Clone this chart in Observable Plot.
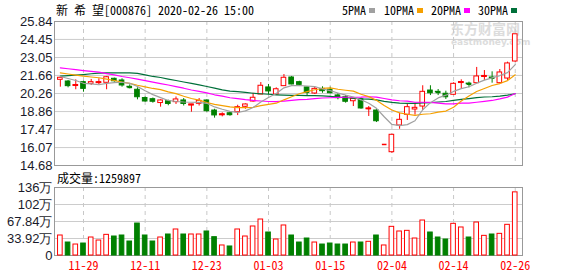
<!DOCTYPE html>
<html><head><meta charset="utf-8">
<script src="https://cdn.jsdelivr.net/npm/d3@7"></script>
<script src="https://cdn.jsdelivr.net/npm/@observablehq/plot@0.6"></script>
<style>
body{margin:0;background:#fff;}
#wrap{position:relative;width:578px;height:276px;overflow:hidden;background:#fff;}
.mono{font-family:"Noto Sans Mono CJK SC","Liberation Mono",monospace;font-size:12px;line-height:14px;color:#000;position:absolute;white-space:pre;}
.sw{position:absolute;width:6px;height:5px;}
#p1,#p2{position:absolute;left:0;}
#p1{top:0;} #p2{top:165px;}
.wm{position:absolute;color:#dcdcdc;font-family:"Noto Sans CJK SC",sans-serif;font-weight:bold;white-space:pre;}
</style></head><body><div id="wrap">
<div class="wm" style="left:450px;top:21px;font-size:14px;line-height:15px;">东方财富网</div>
<div class="wm" style="left:451px;top:38px;font-size:9px;line-height:9px;font-family:'DejaVu Sans',sans-serif;">eastmoney.com</div>
<div id="p1"></div><div id="p2"></div>
<div class="mono" style="left:56px;top:3px;">新 希 望[000876] 2020-02-26 15:00</div>
<div id="legend"></div>
<div class="mono" style="left:57px;top:171px;">成交量:1259897</div>
</div>
<script>
const dates = ["11-26","11-27","11-28","11-29","12-02","12-03","12-04","12-05","12-06","12-09","12-10","12-11","12-12","12-13","12-16","12-17","12-18","12-19","12-20","12-23","12-24","12-25","12-26","12-27","12-30","12-31","01-02","01-03","01-06","01-07","01-08","01-09","01-10","01-13","01-14","01-15","01-16","01-17","01-20","01-21","01-22","01-23","02-03","02-04","02-05","02-06","02-07","02-10","02-11","02-12","02-13","02-14","02-17","02-18","02-19","02-20","02-21","02-24","02-25","02-26"];
const open = [21.32,21.19,20.84,21.14,21.01,21.06,21.09,21.40,21.27,20.78,20.55,19.91,19.82,19.52,19.66,19.59,19.72,19.33,19.46,19.72,18.94,18.57,18.73,18.81,19.23,19.64,20.18,20.73,20.18,20.83,21.50,21.14,20.73,20.26,20.62,20.55,20.11,19.97,19.66,19.82,19.04,18.94,16.31,15.71,17.78,18.61,19.02,19.25,20.49,20.39,20.24,20.16,21.07,21.03,21.06,21.54,21.50,21.06,21.42,22.74];
const high = [21.50,21.27,21.32,21.21,21.35,21.40,21.58,21.45,21.40,20.93,20.70,19.99,19.91,19.77,19.74,19.99,19.87,19.42,19.87,19.77,19.04,18.76,18.81,19.35,19.46,20.28,21.11,20.96,20.70,21.73,21.58,21.21,20.75,20.75,20.78,20.75,20.24,20.11,19.85,19.90,19.25,19.04,16.31,17.10,18.73,19.46,19.51,20.86,20.86,20.57,20.44,21.09,21.32,21.14,22.28,22.04,21.94,22.12,22.69,24.85];
const low = [20.75,20.70,20.55,20.36,20.88,20.93,20.55,21.14,20.75,20.62,19.77,19.59,19.51,19.20,19.31,19.41,19.29,18.81,19.29,18.81,18.35,18.45,18.50,18.55,19.04,19.59,20.18,20.18,20.16,20.83,20.93,20.80,20.10,20.18,20.28,20.24,19.77,19.51,19.25,19.04,18.48,18.01,16.31,15.63,17.49,18.17,18.58,18.94,20.10,20.10,19.80,20.10,20.62,20.70,21.06,21.27,21.06,21.01,21.27,22.69];
const close = [21.48,20.83,20.92,20.62,21.14,21.14,21.52,21.21,20.88,20.73,19.97,19.64,19.62,19.72,19.45,19.80,19.45,19.41,19.69,18.89,18.56,18.65,18.58,19.20,19.41,19.93,20.86,20.42,20.59,21.48,20.96,20.93,20.31,20.62,20.44,20.28,19.90,19.62,19.85,19.10,19.10,18.11,16.31,17.06,18.22,19.20,19.15,20.39,20.28,20.34,19.97,21.01,21.15,20.98,21.58,21.62,21.45,21.89,22.59,24.85];
const volume = [39.9,25.9,21.9,23.9,35.9,29.9,41.2,37.9,39.9,27.9,63.8,39.9,27.9,35.9,41.9,51.9,41.9,41.9,41.9,47.9,36.6,20.0,18.0,51.9,37.9,57.9,71.8,45.9,31.9,59.9,39.9,25.9,33.9,25.9,21.9,23.9,21.9,21.9,25.9,25.9,27.3,39.9,20.0,57.2,47.9,49.2,33.9,69.8,45.9,35.9,31.9,63.2,55.9,35.9,65.8,39.2,41.9,43.2,61.2,126.0];
const ma5 = [21.58,21.42,21.27,21.05,21.00,20.94,21.05,21.10,21.13,21.05,20.80,20.47,20.17,19.94,19.72,19.64,19.60,19.58,19.57,19.50,19.22,19.04,18.88,18.79,18.91,19.17,19.60,19.95,20.26,20.70,20.87,20.88,20.84,20.80,20.61,20.48,20.30,20.13,19.99,19.77,19.51,19.11,18.46,17.86,17.77,17.85,18.15,19.00,19.55,19.92,20.13,20.42,20.64,20.78,21.06,21.30,21.47,21.65,21.88,22.50];
const ma10 = [21.86,21.77,21.69,21.60,21.54,21.48,21.38,21.27,21.14,21.05,20.90,20.78,20.65,20.56,20.39,20.25,20.05,19.87,19.75,19.56,19.42,19.32,19.22,19.17,19.16,19.18,19.32,19.42,19.51,19.77,20.01,20.24,20.41,20.55,20.65,20.69,20.59,20.51,20.44,20.20,20.02,19.73,19.33,18.98,18.76,18.65,18.57,18.65,18.69,18.82,18.90,19.19,19.68,20.07,20.41,20.65,20.88,21.03,21.26,21.71];
const ma20 = [22.25,22.18,22.11,22.04,21.97,21.91,21.80,21.70,21.58,21.48,21.38,21.26,21.14,21.03,20.92,20.79,20.67,20.53,20.42,20.31,20.16,20.05,19.93,19.86,19.78,19.72,19.68,19.64,19.63,19.67,19.72,19.78,19.81,19.86,19.91,19.93,19.96,19.97,19.97,19.98,20.01,19.98,19.87,19.76,19.70,19.67,19.58,19.58,19.57,19.51,19.46,19.46,19.51,19.52,19.58,19.65,19.72,19.84,19.98,20.26];
const ma30 = [21.60,21.64,21.68,21.73,21.79,21.84,21.86,21.86,21.86,21.86,21.82,21.70,21.58,21.50,21.38,21.27,21.15,21.04,20.93,20.80,20.68,20.54,20.45,20.40,20.35,20.28,20.24,20.20,20.16,20.13,20.11,20.11,20.09,20.09,20.07,20.04,19.99,19.93,19.90,19.84,19.82,19.76,19.65,19.57,19.52,19.50,19.49,19.53,19.55,19.60,19.64,19.72,19.81,19.87,19.94,19.99,20.01,20.06,20.13,20.24];
const priceTicks = [14.68,16.07,17.47,18.86,20.26,21.66,23.05,24.45,25.84];
const volTicks = [0,33.92,67.84,101.76,135.68];
const volTickLabels = ["0","33.92万","67.84万","102万","136万"];
const tickDates = ["11-29","12-11","12-23","01-03","01-15","02-04","02-14","02-26"];
const maNames = ["5PMA","10PMA","20PMA","30PMA"];

const RED = "#ff0000", GREEN = "#008000";
const maColors = ["#a0a0a0","#f5a000","#ff00ff","#00703a"];
const rows = dates.map((d, i) => ({i, d, o: open[i], h: high[i], l: low[i], c: close[i], v: volume[i],
  ma5: ma5[i], ma10: ma10[i], ma20: ma20[i], ma30: ma30[i]}));
const up = r => r.c >= r.o;
const tickIdx = tickDates.map(t => dates.indexOf(t));
const bw = 0.3;
const xScale = {type: "linear", domain: [-0.5, dates.length - 0.5], range: [56, 518.6]};
const baseStyle = {fontFamily: "'Liberation Sans', Arial, sans-serif", fontSize: "13px", background: "transparent", overflow: "visible"};

const p1 = Plot.plot({
  width: 578, height: 170, marginTop: 21, marginBottom: 5, marginLeft: 54, marginRight: 56,
  style: baseStyle,
  x: {...xScale, axis: null},
  y: {domain: [priceTicks[0], priceTicks[priceTicks.length - 1]]},
  color: {type: "identity"},
  marks: [
    Plot.gridY(priceTicks, {stroke: "#cccccc", strokeOpacity: 1}),
    Plot.gridX(tickIdx, {stroke: "#c8c8c8", strokeOpacity: 1, strokeDasharray: "4,4"}),
    Plot.frame({stroke: "#999999"}),
    Plot.axisY(priceTicks, {tickSize: 0, tickPadding: 2, tickFormat: d => d.toFixed(2), color: "#1a1a2a", fontSize: 13, label: null}),
    Plot.ruleX(rows, {x: "i", y1: "l", y2: "h", stroke: r => up(r) ? RED : GREEN, strokeWidth: 1}),
    Plot.rect(rows, {x1: r => r.i - bw, x2: r => r.i + bw, y1: "o", y2: "c",
      fill: r => up(r) ? "#ffffff" : GREEN, stroke: r => up(r) ? RED : GREEN, strokeWidth: 1}),
    Plot.link(rows.filter(r => Math.abs(r.o - r.c) < 0.1), {x1: r => r.i - bw, x2: r => r.i + bw, y1: "c", y2: "c",
      stroke: r => up(r) ? RED : GREEN, strokeWidth: 1.5}),
    Plot.line(rows, {x: "i", y: "ma30", stroke: maColors[3], strokeWidth: 1.2}),
    Plot.line(rows, {x: "i", y: "ma20", stroke: maColors[2], strokeWidth: 1.2}),
    Plot.line(rows, {x: "i", y: "ma10", stroke: maColors[1], strokeWidth: 1.2}),
    Plot.line(rows, {x: "i", y: "ma5", stroke: maColors[0], strokeWidth: 1.2})
  ]
});
document.getElementById("p1").appendChild(p1);

const p2 = Plot.plot({
  width: 578, height: 111, marginTop: 22, marginBottom: 21, marginLeft: 54, marginRight: 56,
  style: baseStyle,
  x: {...xScale},
  y: {domain: [volTicks[0], volTicks[volTicks.length - 1]]},
  color: {type: "identity"},
  marks: [
    Plot.gridY(volTicks, {stroke: "#cccccc", strokeOpacity: 1}),
    Plot.gridX(tickIdx, {stroke: "#c8c8c8", strokeOpacity: 1, strokeDasharray: "4,4"}),
    Plot.frame({stroke: "#999999"}),
    Plot.axisY(volTicks, {tickSize: 0, tickPadding: 2, tickFormat: d => volTickLabels[volTicks.indexOf(d)], color: "#1a1a2a", fontSize: 13, label: null}),
    Plot.axisX(tickIdx, {tickSize: 0, tickPadding: 6, tickFormat: i => dates[i], color: RED, fontSize: 12,
      fontFamily: "'Noto Sans Mono CJK SC','Liberation Mono',monospace", label: null}),
    Plot.rectY(rows, {x1: r => r.i - bw, x2: r => r.i + bw, y1: 0, y2: "v",
      fill: r => up(r) ? "#ffffff" : GREEN, stroke: r => up(r) ? RED : GREEN, strokeWidth: 1})
  ]
});
document.getElementById("p2").appendChild(p2);

// legend
const legend = document.getElementById("legend");
const legX = [342, 384, 431, 478];
maNames.forEach((n, k) => {
  const t = document.createElement("div");
  t.className = "mono"; t.style.left = legX[k] + "px"; t.style.top = "3px"; t.textContent = n;
  legend.appendChild(t);
  const s = document.createElement("div");
  s.className = "sw"; s.style.left = (legX[k] + n.length * 6 + 3) + "px"; s.style.top = "8px"; s.style.background = maColors[k];
  legend.appendChild(s);
});
</script>
</body></html>
